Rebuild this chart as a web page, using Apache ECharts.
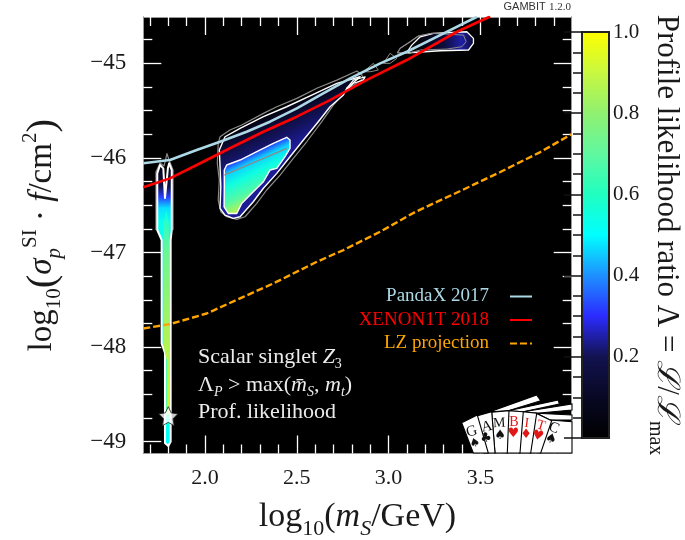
<!DOCTYPE html>
<html><head><meta charset="utf-8">
<style>html,body{margin:0;padding:0;background:#fff}#c{width:685px;height:540px}</style>
<script src="https://cdn.jsdelivr.net/npm/echarts@6/dist/echarts.min.js"></script>
</head><body><div id="c"></div>
<script>
const xMajorTicks=[2,2.5,3,3.5];
const xMinorTicks=[1.7,1.8,1.9,2.1,2.2,2.3,2.4,2.6,2.7,2.8,2.9,3.1,3.2,3.3,3.4,3.6,3.7,3.8,3.9];
const yMajorTicks=[-45,-46,-47,-48,-49];
const yMinorTicks=[-44.75,-45.25,-45.5,-45.75,-46.25,-46.5,-46.75,-47.25,-47.5,-47.75,-48.25,-48.5,-48.75];
const cbarLabels=[0.2,0.4,0.6,0.8,1.0];
const cmapColors=['#000000','#080824','#12124f','#2b2bff','#1e90ff','#00ffff','#20ffc0','#60f8a0','#90f070','#c8f840','#ffff00'];

const pandax=[[1.664,-46.057],[1.809,-46.022],[1.955,-45.917],[2.082,-45.829],[2.227,-45.723],[2.354,-45.617],[2.5,-45.476],[2.627,-45.335],[2.79,-45.159],[2.954,-45],[3.099,-44.877],[3.281,-44.701],[3.481,-44.507]];
const xenon=[[1.664,-46.311],[1.809,-46.216],[1.955,-46.075],[2.136,-45.898],[2.318,-45.723],[2.5,-45.564],[2.681,-45.388],[2.863,-45.194],[3.099,-44.965],[3.372,-44.666],[3.553,-44.505]];
const lz=[[1.664,-47.803],[1.809,-47.757],[2.009,-47.645],[2.209,-47.469],[2.372,-47.327],[2.609,-47.098],[2.754,-46.974],[2.954,-46.78],[3.144,-46.572],[3.39,-46.35],[3.608,-46.149],[3.826,-45.938],[3.997,-45.748]];
const bestFit=[[1.8,-48.73]];

const mainOuter=[[2.109,-45.776],[2.191,-45.687],[2.318,-45.564],[2.445,-45.459],[2.59,-45.328],[2.718,-45.211],[2.845,-45.142],[2.772,-45.264],[2.754,-45.335],[2.681,-45.459],[2.617,-45.617],[2.536,-45.811],[2.463,-45.987],[2.391,-46.163],[2.318,-46.321],[2.263,-46.463],[2.191,-46.622],[2.154,-46.639],[2.109,-46.604],[2.082,-46.533],[2.086,-46.305],[2.082,-46.093],[2.078,-45.917]];
const mainGray=[[2.082,-45.776],[2.136,-45.705],[2.2,-45.652],[2.318,-45.529],[2.391,-45.459],[2.5,-45.37],[2.609,-45.264],[2.718,-45.177],[2.827,-45.081],[2.854,-45.124],[2.863,-45.159],[2.772,-45.282],[2.699,-45.441],[2.636,-45.617],[2.554,-45.829],[2.481,-46.004],[2.409,-46.181],[2.336,-46.339],[2.282,-46.48],[2.218,-46.622],[2.173,-46.649],[2.118,-46.622],[2.086,-46.569],[2.072,-46.445],[2.078,-46.234],[2.067,-46.057],[2.072,-45.846]];
const mainInner=[[2.118,-46.075],[2.191,-46.022],[2.282,-45.934],[2.372,-45.846],[2.445,-45.782],[2.463,-45.811],[2.463,-45.899],[2.436,-45.987],[2.391,-46.11],[2.354,-46.128],[2.318,-46.252],[2.263,-46.358],[2.2,-46.481],[2.173,-46.587],[2.127,-46.587],[2.104,-46.517],[2.105,-46.305],[2.105,-46.128]];
const mainInnerGray=[[2.105,-46.181],[2.445,-45.899]];
const outerGradLine=[[2.245,-45.62],[2.338,-46.001]];
const outerLevels=[[0,0.03],[0.35,0.15],[1,0.24]];
const innerGradLine=[[2.191,-46.001],[2.308,-46.477]];
const innerLevels=[[0,0.3],[0.18,0.46],[0.4,0.55],[0.7,0.68],[0.92,0.85],[1,0.88]];

const tailBlob=[[3.108,-44.859],[3.126,-44.807],[3.172,-44.719],[3.244,-44.683],[3.426,-44.666],[3.462,-44.736],[3.462,-44.789],[3.435,-44.859],[3.281,-44.867],[3.108,-44.888]];
const tailGray=[[3.048,-44.888],[3.063,-44.841],[3.117,-44.772],[3.162,-44.711],[3.235,-44.683],[3.408,-44.701],[3.422,-44.772],[3.399,-44.824],[3.317,-44.849],[3.172,-44.859],[3.108,-44.894]];
const tailGradLine=[[3.15,-44.77],[3.46,-44.77]];
const tailLevels=[[0,0.02],[0.5,0.16],[0.8,0.25],[1,0.14]];
const islandWhite=[[2.772,-45.264],[2.808,-45.177],[2.872,-45.142],[2.863,-45.177],[2.808,-45.211],[2.781,-45.264]];
const islandGrayA=[[2.863,-45.089],[2.917,-45],[2.944,-45.071],[2.899,-45.089]];
const islandGrayB=[[2.972,-45],[3.008,-44.894],[3.045,-44.947],[3.008,-45]];

const stripOuter=[[1.74,-46.762],[1.74,-46.163],[1.755,-46.075],[1.773,-46.11],[1.782,-46.424],[1.798,-46.107],[1.805,-46.057],[1.819,-46.128],[1.819,-46.762],[1.813,-46.868],[1.813,-49],[1.8,-49.045],[1.782,-49.014],[1.782,-48.063],[1.764,-47.96],[1.764,-46.868]];
const stripGray=[[1.733,-46.762],[1.733,-46.149],[1.755,-46.054],[1.777,-46.085],[1.793,-45.954],[1.804,-46.022],[1.826,-46.128],[1.826,-46.762]];
const stripCore=[[1.773,-46.7],[1.773,-47.978],[1.791,-48.136],[1.791,-48.718],[1.807,-48.718],[1.807,-47.978],[1.804,-46.7],[1.79,-46.55]];
const stripGradLine=[[1.8,-46.06],[1.8,-49]];
const stripLevels=[[0,0.05],[0.08,0.18],[0.12,0.32],[0.16,0.47],[0.21,0.53],[0.65,0.53],[0.9,0.55],[1,0.5]];
const coreGradLine=[[1.8,-46.55],[1.8,-48.7]];
const coreLevels=[[0,0.55],[0.2,0.72],[0.6,0.85],[1,0.92]];

const serif='"Liberation Serif"';
function lambdaColor(v){
  const t=Math.min(0.9999,Math.max(0,v))*(cmapColors.length-1),i=Math.floor(t),f=t-i;
  const h=c=>[1,3,5].map(k=>parseInt(c.substr(k,2),16));
  const a=h(cmapColors[i]),b=h(cmapColors[i+1]);
  return 'rgb('+a.map((x,k)=>Math.round(x+(b[k]-x)*f)).join(',')+')';
}
function region(pts,o){
  return {type:'custom',coordinateSystem:'cartesian2d',xAxisIndex:0,yAxisIndex:0,clip:true,silent:true,z:o.z||2,data:pts,
    encode:{x:0,y:1},
    renderItem(params,api){
      if(params.dataIndex!==0) return null;
      const p=pts.map(v=>api.coord(v));
      let fill='none';
      if(o.line){
        const a=api.coord(o.line[0]),b=api.coord(o.line[1]);
        fill={type:'linear',global:true,x:a[0],y:a[1],x2:b[0],y2:b[1],
          colorStops:o.levels.map(s=>({offset:s[0],color:lambdaColor(s[1])}))};
      }
      return {type:o.open?'polyline':'polygon',shape:{points:p},
        style:{fill:o.open?null:fill,stroke:o.stroke||null,lineWidth:o.width||1,lineJoin:'round'}};
    }};
}
const W='#ffffff',G='#8a8a8a';
const series=[
  region(mainGray,{stroke:G,width:1.2}),
  region(mainOuter,{line:outerGradLine,levels:outerLevels,stroke:W,width:1.4}),
  region(mainInner,{line:innerGradLine,levels:innerLevels,stroke:W,width:1.4}),
  region(mainInnerGray,{open:true,stroke:G,width:1.3}),
  region(tailGray,{stroke:G,width:1.2}),
  region(tailBlob,{line:tailGradLine,levels:tailLevels,stroke:W,width:1.3}),
  region(tailGray,{stroke:G,width:1}),
  region(islandWhite,{stroke:W,width:1.2}),
  region(islandGrayA,{stroke:G,width:1}),
  region(islandGrayB,{stroke:G,width:1}),
  region(stripGray,{open:true,stroke:G,width:1.2}),
  region(stripOuter,{line:stripGradLine,levels:stripLevels,stroke:W,width:2}),
  region(stripCore,{line:coreGradLine,levels:coreLevels}),
  {type:'line',name:'PandaX 2017',data:pandax,symbol:'none',z:3,silent:true,lineStyle:{color:'#add8e6',width:2.6},itemStyle:{color:'#add8e6'}},
  {type:'line',name:'XENON1T 2018',data:xenon,symbol:'none',z:3,silent:true,lineStyle:{color:'#ff0000',width:2.6},itemStyle:{color:'#ff0000'}},
  {type:'line',name:'LZ projection',data:lz,symbol:'none',z:3,silent:true,lineStyle:{color:'#ffa500',width:2.4,type:[7,3]},itemStyle:{color:'#ffa500'}},
  {type:'scatter',data:bestFit,z:4,silent:true,symbol:'path://M12 2l3.09 6.26L22 9.27l-5 4.87 1.18 6.88L12 17.77l-6.18 3.25L7 14.14 2 9.27l6.91-1.01L12 2z',symbolSize:19,itemStyle:{color:'#fff',borderColor:'#222',borderWidth:1}}
];
const AX='#9a9a9a';
const tickLine={lineStyle:{color:'#fff',width:1.3}};
function tickAxis(extra,vals,len){
  return Object.assign({type:'value',axisLine:{show:true,onZero:false,lineStyle:{color:AX,width:1}},splitLine:{show:false},
    axisTick:Object.assign({show:true,inside:true,length:len,customValues:vals},tickLine),axisLabel:{show:false}},extra);
}
const xR={min:1.664,max:3.997},yR={min:-49.125,max:-44.51};
function mathRich(size){
  const ss=Math.round(size*0.64),lh=Math.round(size*1.35);
  const base={fontFamily:serif,fontSize:size,color:'#1a1a1a'};
  return {
    b:base,
    i:Object.assign({},base,{fontStyle:'italic'}),
    lg:Object.assign({},base,{fontSize:Math.round(size*1.25)}),
    sub:{fontFamily:serif,fontSize:ss,color:'#1a1a1a',verticalAlign:'bottom',lineHeight:lh},
    subi:{fontFamily:serif,fontSize:ss,fontStyle:'italic',color:'#1a1a1a',verticalAlign:'bottom',lineHeight:lh},
    sup:{fontFamily:serif,fontSize:ss,color:'#1a1a1a',verticalAlign:'top',lineHeight:lh}
  };
}
const xName='{b|log}{sub|10}{b|(}{i|m}{subi|S}{b|/GeV)}';
const yName='{b|log}{sub|10}{lg|(}{i|σ}{subi|p}{sup|SI}{b| · }{i|f}{b|/cm}{sup|2}{lg|)}';
const cbarName='{b|Profile likelihood ratio Λ = }{i|ℒ}{b|/}{i|ℒ}{sub|max}';
const ink='#ececec';
const white={fontFamily:serif,fontSize:22,fill:ink};
const ann={
  t:white,ti:Object.assign({},white,{fontStyle:'italic'}),
  s:{fontFamily:serif,fontSize:14,fill:ink,verticalAlign:'bottom',lineHeight:27},
  si:{fontFamily:serif,fontSize:14,fontStyle:'italic',fill:ink,verticalAlign:'bottom',lineHeight:27}
};
function T(x,y,text,o){return {type:'text',x,y,z:6,silent:true,rotation:o.r||0,style:Object.assign({text,fill:o.c||'#111',fontFamily:o.f||serif,fontSize:o.s||13,align:'center',verticalAlign:'middle'},o.x||{})};}
function P(points){return {type:'polygon',z:5,silent:true,shape:{points},style:{fill:'#fff',stroke:'#000',lineWidth:1.1}};}
const suit='"DejaVu Sans"',red='#e01818';
const graphic=[
  P([[490,411.7],[536.7,395],[540.7,400.7],[508.3,410.7]]),
  P([[508.3,410.7],[558.3,400],[559.3,404],[523.3,411.7]]),
  P([[523.3,411.7],[572,404],[572,410],[536.7,413.3]]),
  P([[536.7,413.3],[572,415],[572,420],[550,420]]),
  P([[550,420],[572,421.7],[572,453],[540,453]]),
  P([[536,413.3],[551.7,420.7],[540.7,453],[530,453]]),
  P([[522.7,411.7],[536.7,413.3],[530.7,453],[519,453]]),
  P([[508.3,410.7],[523.3,411.7],[520,453],[506.7,453]]),
  P([[491.7,412.3],[509,410.7],[507.3,453],[495,453]]),
  P([[476.7,416],[491.7,411.7],[495,453],[484.3,453]]),
  P([[461.7,422.7],[477.3,415],[488.3,453],[473.3,453]]),
  T(471.7,431.7,'G',{r:0.3,s:15}),T(486.7,426.7,'A',{r:0.2,s:15}),T(499.3,423.3,'M',{r:0.05,s:14}),
  T(514,422.7,'B',{s:14,c:red}),T(526.7,423.3,'I',{r:-0.12,s:14,c:red}),T(541,425.7,'T',{r:-0.3,s:14,c:red}),T(554,428,'C',{r:-0.4,s:15}),
  T(475,443.3,'♠',{r:0.3,s:12,f:suit}),T(486,438.3,'♣',{r:0.2,s:13,f:suit}),T(500,436,'♠',{s:13,f:suit}),
  T(513.3,434,'♥',{s:13,f:suit,c:red}),T(526,435,'♦',{s:13,f:suit,c:red}),T(538,436,'♥',{r:-0.2,s:13,f:suit,c:red}),T(550.7,439.3,'♠',{r:-0.3,s:13,f:suit}),
  {type:'text',x:198,y:344,z:6,silent:true,style:{text:'{t|Scalar singlet }{ti|Z}{s|3}',rich:ann}},
  {type:'text',x:198,y:372,z:6,silent:true,style:{text:'{t|Λ}{si|P}{t| > max(}{ti|m̄}{si|S}{t|, }{ti|m}{si|t}{t|)}',rich:ann}},
  {type:'text',x:198,y:401,z:6,silent:true,style:{text:'{t|Prof. likelihood}',rich:ann}},
  {type:'text',x:571,y:7,z:6,silent:true,style:{text:'{a|GAMBIT} {b|1.2.0}',align:'right',verticalAlign:'middle',rich:{a:{fontFamily:'"Liberation Sans"',fontSize:11,fill:'#333'},b:{fontFamily:serif,fontSize:11,fill:'#333'}}}}
];
const option={
  animation:false,
  backgroundColor:'#fff',
  grid:[
    {left:143.3,top:17,width:428.4,height:436.5,show:true,backgroundColor:'#000',borderWidth:0,outerBoundsMode:'none'},
    {left:582,top:32,width:27,height:406,show:true,backgroundColor:'transparent',borderColor:'#222',borderWidth:2,z:10,outerBoundsMode:'none'}
  ],
  xAxis:[
    tickAxis(Object.assign({gridIndex:0,position:'bottom',name:xName,nameLocation:'middle',nameGap:41,nameTextStyle:{rich:mathRich(34)},
      axisLabel:{show:true,margin:14,customValues:xMajorTicks,formatter:v=>v.toFixed(1),fontFamily:serif,fontSize:22,color:'#1a1a1a'}},xR),xMajorTicks,18),
    tickAxis(Object.assign({gridIndex:0,position:'bottom'},xR),xMinorTicks,9),
    tickAxis(Object.assign({gridIndex:0,position:'top'},xR),xMajorTicks,18),
    tickAxis(Object.assign({gridIndex:0,position:'top'},xR),xMinorTicks,9),
    {type:'value',gridIndex:1,min:0,max:1,show:false}
  ],
  yAxis:[
    tickAxis(Object.assign({gridIndex:0,position:'left',name:yName,nameLocation:'middle',nameGap:78,nameRotate:90,nameTextStyle:{rich:mathRich(33)},
      axisLabel:{show:true,margin:17,customValues:yMajorTicks,formatter:v=>'−'+Math.abs(v),fontFamily:serif,fontSize:23,color:'#1a1a1a'}},yR),yMajorTicks,18),
    tickAxis(Object.assign({gridIndex:0,position:'left'},yR),yMinorTicks,9),
    tickAxis(Object.assign({gridIndex:0,position:'right'},yR),yMajorTicks,18),
    tickAxis(Object.assign({gridIndex:0,position:'right'},yR),yMinorTicks,9),
    {type:'value',gridIndex:1,min:0,max:1,interval:0.2,position:'right',z:10,
      name:cbarName,nameLocation:'middle',nameGap:36,nameRotate:-90,nameTextStyle:{rich:mathRich(31)},
      axisLine:{show:true,lineStyle:{color:'#222',width:2}},splitLine:{show:false},
      axisTick:{show:true,inside:true,length:18,lineStyle:{color:'#111',width:1.5}},
      minorTick:{show:true,splitNumber:4,length:9,lineStyle:{color:'#111',width:1.5}},
      axisLabel:{show:true,margin:4,customValues:cbarLabels,formatter:v=>v.toFixed(1),fontFamily:serif,fontSize:21,color:'#1a1a1a'}}
  ],
  visualMap:{type:'continuous',min:0,max:1,seriesIndex:[],calculable:false,hoverLink:false,show:true,left:582,top:32,itemWidth:27,itemHeight:406,padding:0,text:null,showLabel:false,inRange:{color:cmapColors}},
  legend:{show:true,orient:'vertical',align:'right',right:147,top:282,itemWidth:22,itemHeight:12,itemGap:4.5,selectedMode:false,
    itemStyle:{color:'transparent',borderColor:'transparent',borderWidth:0},
    textStyle:{fontFamily:serif,fontSize:19,padding:[0,16,0,0]},
    data:[{name:'PandaX 2017',textStyle:{color:'#add8e6'}},{name:'XENON1T 2018',textStyle:{color:'#ff0000'}},{name:'LZ projection',textStyle:{color:'#ffa500'}}]},
  graphic,
  series
};
const chart=echarts.init(document.getElementById('c'),null,{renderer:'canvas'});
chart.setOption(option);
</script></body></html>
